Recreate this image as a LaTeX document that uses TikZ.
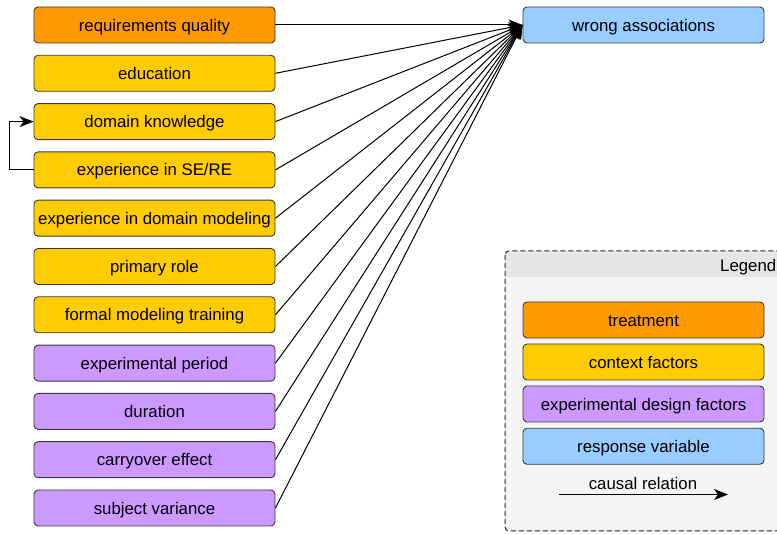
\documentclass[tikz,border=0pt]{standalone}
\usepackage{fontspec}
\setmainfont{Liberation Sans}
\usetikzlibrary{arrows.meta}
\definecolor{corange}{HTML}{FF9900}
\definecolor{cyellow}{HTML}{FFCC00}
\definecolor{cpurple}{HTML}{CC99FF}
\definecolor{cblue}{HTML}{99CCFF}
\definecolor{cstroke}{HTML}{36393D}
\tikzset{
  lbl/.style={font=\fontsize{16.8}{19}\selectfont, text height=12.2pt, text depth=0pt},
  box/.style={lbl, draw=cstroke, line width=0.9pt, rounded corners=4pt, minimum width=241pt, minimum height=36pt, inner sep=0pt},
  treat/.style={box, fill=corange},
  ctx/.style={box, fill=cyellow},
  des/.style={box, fill=cpurple},
  resp/.style={box, fill=cblue},
  cause/.style={line width=1pt, -{Stealth[length=14pt,width=11pt,inset=4pt]}},
  legframe/.style={dash pattern=on 5pt off 3pt, draw=black!85, line width=1pt, rounded corners=4pt},
}
\begin{document}
\begin{tikzpicture}[x=1pt,y=-1pt]
\useasboundingbox (0,0) rectangle (777,534);
\clip (0,0) rectangle (777,534);
% legend
\fill[black!4, rounded corners=4pt] (505,251) rectangle (800,531);
\fill[black!10] (505.5,251.5) rectangle (799,277);
\draw[legframe] (505,251) rectangle (800,531);
\node[lbl, anchor=base west, inner sep=0pt] (lgt) at (720,271.5) {Legend};
\node[treat] (l1) at (643.5,320) {treatment};
\node[ctx] (l2) at (643.5,362) {context factors};
\node[des] (l3) at (643.5,404) {experimental design factors};
\node[resp] (l4) at (643.5,446.3) {response variable};
\node[lbl, inner sep=0pt] (lct) at (643,483) {causal relation};
\coordinate (la) at (559,494.5);
\coordinate (lb) at (728,494.5);
\draw[cause] (la) -- (lb);
% main
\node[resp] (wa) at (643.5,25) {wrong associations};
\node[treat] (n1) at (154.5,25) {requirements quality};
\node[ctx] (n2) at (154.5,73.3) {education};
\node[ctx] (n3) at (154.5,121.6) {domain knowledge};
\node[ctx] (n4) at (154.5,169.9) {experience in SE/RE};
\node[ctx] (n5) at (154.5,218.2) {experience in domain modeling};
\node[ctx] (n6) at (154.5,266.5) {primary role};
\node[ctx] (n7) at (154.5,314.8) {formal modeling training};
\node[des] (n8) at (154.5,363.1) {experimental period};
\node[des] (n9) at (154.5,411.4) {duration};
\node[des] (n10) at (154.5,459.7) {carryover effect};
\node[des] (n11) at (154.5,508) {subject variance};
\foreach \i in {1,...,11} {\draw[cause] (n\i.east) -- (wa.west);}
\draw[cause] (n4.west) -- ++(-24,0) |- (n3.west);
\end{tikzpicture}
\end{document}
